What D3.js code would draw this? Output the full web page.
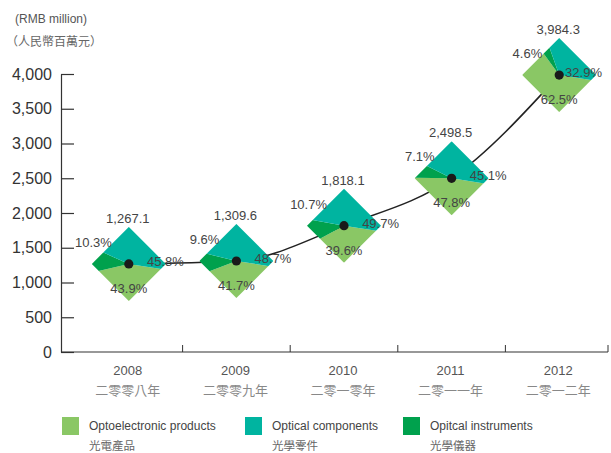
<!DOCTYPE html>
<html>
<head>
<meta charset="utf-8">
<script src="https://cdn.jsdelivr.net/npm/d3@7"></script>
<style>
  body { margin: 0; background: #fff; }
  svg { display: block; font-family: "Liberation Sans", Arial, sans-serif; }
  .zh { font-family: "Noto Sans CJK TC", "Noto Sans CJK SC", sans-serif; }
</style>
</head>
<body>
<svg id="chart" width="611" height="453"></svg>
<script>
// data
const years = ["2008", "2009", "2010", "2011", "2012"];
const yearsZh = ["二零零八年", "二零零九年", "二零一零年", "二零一一年", "二零一二年"];
const totals = [1267.1, 1309.6, 1818.1, 2498.5, 3984.3];
const optoelectronic = [43.9, 41.7, 39.6, 47.8, 62.5];
const components = [45.8, 48.7, 49.7, 45.1, 32.9];
const instruments = [10.3, 9.6, 10.7, 7.1, 4.6];
const yTicks = [0, 500, 1000, 1500, 2000, 2500, 3000, 3500, 4000];

const seriesNames = [
  { key: "opto", en: "Optoelectronic products", zh: "光電產品", color: "#8ac765" },
  { key: "comp", en: "Optical components", zh: "光學零件", color: "#00b4a0" },
  { key: "inst", en: "Opitcal instruments", zh: "光學儀器", color: "#00a14d" }
];

const W = 611;
const svg = d3.select("#chart");

const x = d3.scaleBand().domain(years).range([75, 613]).padding(0);
const y = d3.scaleLinear().domain([0, 4000]).range([352, 74]);
const axisLeftX = 61;
const axisRightX = 608;
const cxOf = yr => x(yr) + x.bandwidth() / 2;

// header
svg.append("text").attr("x", 15).attr("y", 23)
  .attr("font-size", 12).attr("fill", "#555").text("(RMB million)");
svg.append("text").attr("class", "zh").attr("x", 6).attr("y", 46)
  .attr("font-size", 12).attr("fill", "#666").text("（人民幣百萬元）");

// y axis
const yAxis = svg.append("g")
  .attr("transform", `translate(${axisLeftX},0)`)
  .call(d3.axisLeft(y).tickValues(yTicks).tickSizeInner(-13).tickSizeOuter(0)
    .tickFormat(d3.format(",")).tickPadding(9));
yAxis.select(".domain").attr("stroke", "#333").attr("stroke-width", 1.2);
yAxis.selectAll(".tick line").attr("stroke", "#333").attr("stroke-width", 1.2);
yAxis.selectAll(".tick text").attr("font-size", 16).attr("fill", "#333")
  .attr("font-family", "Liberation Sans, Arial, sans-serif");

// x axis
svg.append("line")
  .attr("x1", axisLeftX).attr("x2", axisRightX)
  .attr("y1", y(0)).attr("y2", y(0))
  .attr("stroke", "#333").attr("stroke-width", 1.2);
svg.append("g").selectAll("line")
  .data(years.slice(1))
  .join("line")
  .attr("x1", d => x(d)).attr("x2", d => x(d))
  .attr("y1", y(0)).attr("y2", y(0) - 7)
  .attr("stroke", "#333").attr("stroke-width", 1);
svg.append("line")
  .attr("x1", axisRightX).attr("x2", axisRightX)
  .attr("y1", y(0)).attr("y2", y(0) - 7)
  .attr("stroke", "#333").attr("stroke-width", 1);

svg.append("g").selectAll("text")
  .data(years)
  .join("text")
  .attr("x", d => cxOf(d) - 1)
  .attr("y", 375)
  .attr("text-anchor", "middle")
  .attr("font-size", 13).attr("fill", "#555")
  .text(d => d);
svg.append("g").selectAll("text")
  .data(yearsZh)
  .join("text")
  .attr("class", "zh")
  .attr("x", (d, i) => cxOf(years[i]) - 1)
  .attr("y", 395)
  .attr("text-anchor", "middle")
  .attr("font-size", 13).attr("fill", "#888")
  .text(d => d);

// trend line
const pts = years.map((yr, i) => [cxOf(yr), y(totals[i])]);
svg.append("path")
  .attr("d", d3.line().curve(d3.curveMonotoneX)(pts))
  .attr("fill", "none").attr("stroke", "#222").attr("stroke-width", 1.6);

// diamonds: pie clipped to a rotated square
const half = 37;
const defs = svg.append("defs");
defs.append("clipPath").attr("id", "diamond")
  .append("polygon")
  .attr("points", [[0, -half], [half, 0], [0, half], [-half, 0]].map(p => p.join(",")).join(" "));

const pie = d3.pie().sort(null).value(d => d.v)
  .startAngle(Math.PI * 0.55).endAngle(Math.PI * 2.55);
const arc = d3.arc().innerRadius(0).outerRadius(60);

years.forEach((yr, i) => {
  const [cx, cy] = pts[i];
  const g = svg.append("g").attr("transform", `translate(${cx},${cy})`);
  const slices = [
    { v: optoelectronic[i], color: seriesNames[0].color },
    { v: instruments[i], color: seriesNames[2].color },
    { v: components[i], color: seriesNames[1].color }
  ];
  g.append("g").attr("clip-path", "url(#diamond)")
    .selectAll("path")
    .data(pie(slices))
    .join("path")
    .attr("d", arc)
    .attr("fill", d => d.data.color);

  g.append("circle").attr("r", 4.6).attr("fill", "#1a1a1a");

  const lbl = (tx, ty, anchor, t) => g.append("text")
    .attr("x", tx).attr("y", ty).attr("text-anchor", anchor)
    .attr("font-size", 13).attr("fill", "#444").text(t);
  lbl(-1, -41, "middle", d3.format(",.1f")(totals[i]));
  lbl(-17, -17, "end", instruments[i].toFixed(1) + "%");
  // keep the right-hand label inside the canvas
  const rightEnd = Math.min(cx + 55, W - 9) - cx;
  lbl(rightEnd, 2, "end", components[i].toFixed(1) + "%");
  lbl(0, 29, "middle", optoelectronic[i].toFixed(1) + "%");
});

// legend
const legendX = [62, 245, 403];
const legend = svg.append("g").selectAll("g")
  .data(seriesNames)
  .join("g")
  .attr("transform", (d, i) => `translate(${legendX[i]},417)`);
legend.append("rect").attr("width", 17).attr("height", 18).attr("fill", d => d.color);
legend.append("text").attr("x", 27).attr("y", 13)
  .attr("font-size", 12).attr("fill", "#444").text(d => d.en);
legend.append("text").attr("class", "zh").attr("x", 27).attr("y", 33)
  .attr("font-size", 11.5).attr("fill", "#666").text(d => d.zh);
</script>
</body>
</html>
